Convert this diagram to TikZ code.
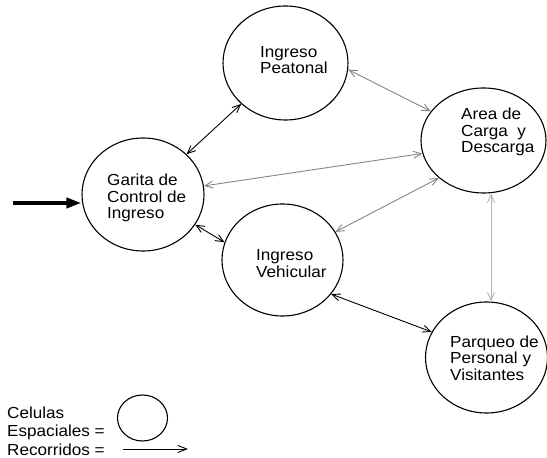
\documentclass[tikz,border=0pt]{standalone}
\usepackage{fontspec}
\setmainfont{Liberation Sans}[FakeStretch=1.07]
\usepackage{tikz}
\usetikzlibrary{arrows.meta, positioning, shapes.geometric}
\tikzset{
  cell/.style={ellipse, draw=black, line width=1.1pt, inner sep=0pt},
  celltext/.style={anchor=west, align=left, inner sep=0pt,
    font=\fontsize{16}{16.5}\selectfont},
  legtext/.style={anchor=west, align=left, inner sep=0pt,
    font=\fontsize{16}{18.5}\selectfont},
  walk/.style={{Straight Barb[length=8pt,width=7pt]}-{Straight Barb[length=8pt,width=7pt]},
    line width=0.9pt},
  blackwalk/.style={walk, black},
  graywalk/.style={walk, black!48},
  lightwalk/.style={walk, black!30},
  legarrow/.style={-{Straight Barb[length=9pt,width=7pt]}, line width=0.9pt},
  inarrow/.style={-{Triangle[length=15pt,width=10pt]}, line width=3.6pt}
}

\begin{document}
\begin{tikzpicture}[x=1pt, y=1pt]
  \useasboundingbox (0,0) rectangle (547,458);

  \node[cell, minimum width=125pt, minimum height=114pt] (peat) at (285.5,395) {};
  \node[cell, minimum width=125pt, minimum height=105pt] (area) at (483.5,317.5) {};
  \node[cell, minimum width=122pt, minimum height=113pt] (garita) at (143,263.5) {};
  \node[cell, minimum width=121pt, minimum height=112pt] (vehic) at (282.5,198) {};
  \node[cell, minimum width=122pt, minimum height=111pt] (parq) at (486.5,100.5) {};

  \node[celltext] (peattxt) at (260,398) {Ingreso\\Peatonal};
  \node[celltext] (areatxt) at (461,326) {Area de\\Carga\ \ y\\Descarga};
  \node[celltext] (garitatxt) at (107,260) {Garita de\\Control de\\Ingreso};
  \node[celltext] (vehictxt) at (256,194.5) {Ingreso\\Vehicular};
  \node[celltext] (parqtxt) at (450,100) {Parqueo de\\Personal y\\Visitantes};

  \coordinate (inp) at (13,255);
  \draw[inarrow] (inp) -- (garita.west |- inp);

  \draw[blackwalk] (garita) -- (peat);
  \draw[graywalk] (peat.-6) -- (area.151);
  \draw[graywalk] (garita.8) -- (area.192);
  \draw[graywalk] (vehic.28) -- (area.220);
  \draw[lightwalk] ([xshift=7.5pt]area.south) -- ([xshift=4.5pt]parq.north);
  \draw[blackwalk] (garita.-30) -- (vehic.163);
  \draw[blackwalk] (vehic.-35) -- (parq.155);

  \node[legtext] (legtxt) at (7,27) {Celulas\\Espaciales =\\Recorridos =};
  \node[cell, minimum width=50pt, minimum height=46pt] (legcell) at (142.5,40) {};
  \coordinate (recs) at (123,9);
  \coordinate (rece) at (188,9);
  \draw[legarrow] (recs) -- (rece);
\end{tikzpicture}
\end{document}
